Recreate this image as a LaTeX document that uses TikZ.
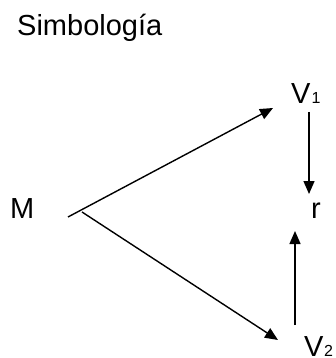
\documentclass[tikz,border=0pt]{standalone}
\usepackage{fontspec}
\setmainfont{Liberation Sans}
\usetikzlibrary{arrows.meta}
\begin{document}
\begin{tikzpicture}[x=1pt,y=-1pt,
  lbl/.style={anchor=base west,inner sep=0pt,font=\fontsize{29}{29}\selectfont},
  sub/.style={anchor=base west,inner sep=0pt,font=\fontsize{16}{16}\selectfont},
  conn/.style={line width=1.4pt,-{Triangle[length=13pt,width=11pt]}}]
\useasboundingbox (0,0) rectangle (335,358);
\node[lbl] (title) at (17,36) {Simbología};
\node[lbl] (M) at (10,218) {M};
\node[lbl] (V1) at (291,104) {V};
\node[sub] (V1s) at (311.5,104) {1};
\node[lbl] (r) at (311,218) {r};
\node[lbl] (V2) at (304,356) {V};
\node[sub] (V2s) at (324,356) {2};
\coordinate (mA) at (68,217);
\coordinate (mB) at (82,212);
\coordinate (v1in) at (273,108);
\coordinate (v2in) at (278,340);
\coordinate (v1out) at (309,112);
\coordinate (rtop) at (309,194);
\coordinate (v2out) at (295,325);
\coordinate (rbot) at (295,231);
\draw[conn] (mA) -- (v1in);
\draw[conn] (mB) -- (v2in);
\draw[conn] (v1out) -- (rtop);
\draw[conn] (v2out) -- (rbot);
\end{tikzpicture}
\end{document}
